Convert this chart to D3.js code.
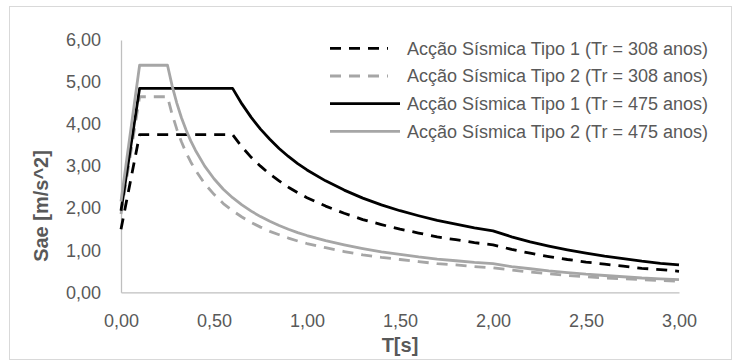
<!DOCTYPE html>
<html>
<head>
<meta charset="utf-8">
<script src="https://cdn.jsdelivr.net/npm/d3@7"></script>
<style>
  body { margin: 0; background: #fff; }
  svg { font-family: "Liberation Sans", Arial, sans-serif; }
</style>
</head>
<body>
<svg width="733" height="361"></svg>
<script>
// period values T[s] along the x axis
const periods = [0, 0.1, 0.25, 0.275, 0.3, 0.325, 0.35, 0.375, 0.4, 0.45, 0.5, 0.55, 0.6, 0.65, 0.7, 0.75, 0.8, 0.85, 0.9, 0.95,
  1.0, 1.1, 1.2, 1.3, 1.4, 1.5, 1.6, 1.7, 1.8, 1.9, 2.0, 2.1, 2.2, 2.3, 2.4, 2.5, 2.6, 2.7, 2.8, 2.9, 3.0];

// Sae [m/s^2] for each series
const tipo1Tr308 = [1.50, 3.75, 3.75, 3.75, 3.75, 3.75, 3.75, 3.75, 3.75, 3.75, 3.75, 3.75, 3.75, 3.46, 3.21, 3.00, 2.81, 2.65, 2.50, 2.37,
  2.25, 2.05, 1.88, 1.73, 1.61, 1.50, 1.41, 1.32, 1.25, 1.18, 1.13, 1.02, 0.93, 0.85, 0.78, 0.72, 0.67, 0.62, 0.57, 0.54, 0.50];
const tipo2Tr308 = [1.86, 4.65, 4.65, 4.23, 3.88, 3.58, 3.32, 3.10, 2.91, 2.58, 2.33, 2.11, 1.94, 1.79, 1.66, 1.55, 1.45, 1.37, 1.29, 1.22,
  1.16, 1.06, 0.97, 0.89, 0.83, 0.78, 0.73, 0.68, 0.65, 0.61, 0.58, 0.53, 0.48, 0.44, 0.40, 0.37, 0.34, 0.32, 0.30, 0.28, 0.26];
const tipo1Tr475 = [1.94, 4.85, 4.85, 4.85, 4.85, 4.85, 4.85, 4.85, 4.85, 4.85, 4.85, 4.85, 4.85, 4.48, 4.16, 3.88, 3.64, 3.42, 3.23, 3.06,
  2.91, 2.65, 2.43, 2.24, 2.08, 1.94, 1.82, 1.71, 1.62, 1.53, 1.46, 1.32, 1.20, 1.10, 1.01, 0.93, 0.86, 0.80, 0.74, 0.69, 0.65];
const tipo2Tr475 = [2.16, 5.40, 5.40, 4.91, 4.50, 4.15, 3.86, 3.60, 3.38, 3.00, 2.70, 2.45, 2.25, 2.08, 1.93, 1.80, 1.69, 1.59, 1.50, 1.42,
  1.35, 1.23, 1.13, 1.04, 0.96, 0.90, 0.84, 0.79, 0.75, 0.71, 0.68, 0.61, 0.56, 0.51, 0.47, 0.43, 0.40, 0.37, 0.34, 0.32, 0.30];

const seriesNames = [
  "Acção Sísmica Tipo 1 (Tr = 308 anos)",
  "Acção Sísmica Tipo 2 (Tr = 308 anos)",
  "Acção Sísmica Tipo 1 (Tr = 475 anos)",
  "Acção Sísmica Tipo 2 (Tr = 475 anos)"
];
const xTicks = [0, 0.5, 1, 1.5, 2, 2.5, 3];
const yTicks = [0, 1, 2, 3, 4, 5, 6];

const series = [
  { name: seriesNames[0], values: tipo1Tr308, color: "#000000", dash: "11,8" },
  { name: seriesNames[1], values: tipo2Tr308, color: "#a6a6a6", dash: "11,8" },
  { name: seriesNames[2], values: tipo1Tr475, color: "#000000", dash: null },
  { name: seriesNames[3], values: tipo2Tr475, color: "#a6a6a6", dash: null }
];

const svg = d3.select("svg");
const textColor = "#595959";
const fmt = (d) => d.toFixed(2).replace(".", ",");

// chart border
svg.append("rect")
  .attr("x", 9.5).attr("y", 6.5)
  .attr("width", 722).attr("height", 353)
  .attr("fill", "#fff")
  .attr("stroke", "#d9d9d9");

const x = d3.scaleLinear().domain([0, 3]).range([121, 679]);
const y = d3.scaleLinear().domain([0, 6]).range([292.3, 40]);

// axes
const yAxis = svg.append("g")
  .attr("transform", `translate(${x(0)},0)`)
  .call(d3.axisLeft(y).tickValues(yTicks).tickFormat(fmt).tickSize(0).tickPadding(20));
const xAxis = svg.append("g")
  .attr("transform", `translate(0,${y(0)})`)
  .call(d3.axisBottom(x).tickValues(xTicks).tickFormat(fmt).tickSize(0).tickPadding(22));

[yAxis, xAxis].forEach((g) => {
  g.select(".domain").attr("stroke", "#bfbfbf").attr("stroke-width", 1.3);
  g.selectAll("text")
    .attr("fill", textColor)
    .attr("font-size", 18)
    .attr("font-family", "Liberation Sans, Arial, sans-serif");
});

// axis titles
svg.append("text")
  .text("T[s]")
  .attr("x", 400).attr("y", 352)
  .attr("text-anchor", "middle")
  .attr("font-size", 20).attr("font-weight", "bold")
  .attr("fill", textColor);
svg.append("text")
  .text("Sae [m/s^2]")
  .attr("transform", "translate(48,206) rotate(-90)")
  .attr("text-anchor", "middle")
  .attr("font-size", 20).attr("font-weight", "bold")
  .attr("fill", textColor);

// lines
const line = d3.line()
  .x((d, i) => x(periods[i]))
  .y((d) => y(d));

svg.append("g")
  .selectAll("path")
  .data(series)
  .join("path")
  .attr("d", (s) => line(s.values))
  .attr("fill", "none")
  .attr("stroke", (s) => s.color)
  .attr("stroke-width", 2.8)
  .attr("stroke-linejoin", "round")
  .attr("stroke-dasharray", (s) => s.dash);

// legend
const legend = svg.append("g")
  .selectAll("g")
  .data(series)
  .join("g")
  .attr("transform", (s, i) => `translate(330,${48.3 + i * 27.7})`);
legend.append("line")
  .attr("x1", 0).attr("x2", (s) => (s.dash ? 58 : 70))
  .attr("stroke", (s) => s.color)
  .attr("stroke-width", 2.8)
  .attr("stroke-dasharray", (s) => s.dash);
legend.append("text")
  .text((s) => s.name)
  .attr("x", 77)
  .attr("dy", "0.35em")
  .attr("font-size", 18)
  .attr("fill", textColor);
</script>
</body>
</html>
